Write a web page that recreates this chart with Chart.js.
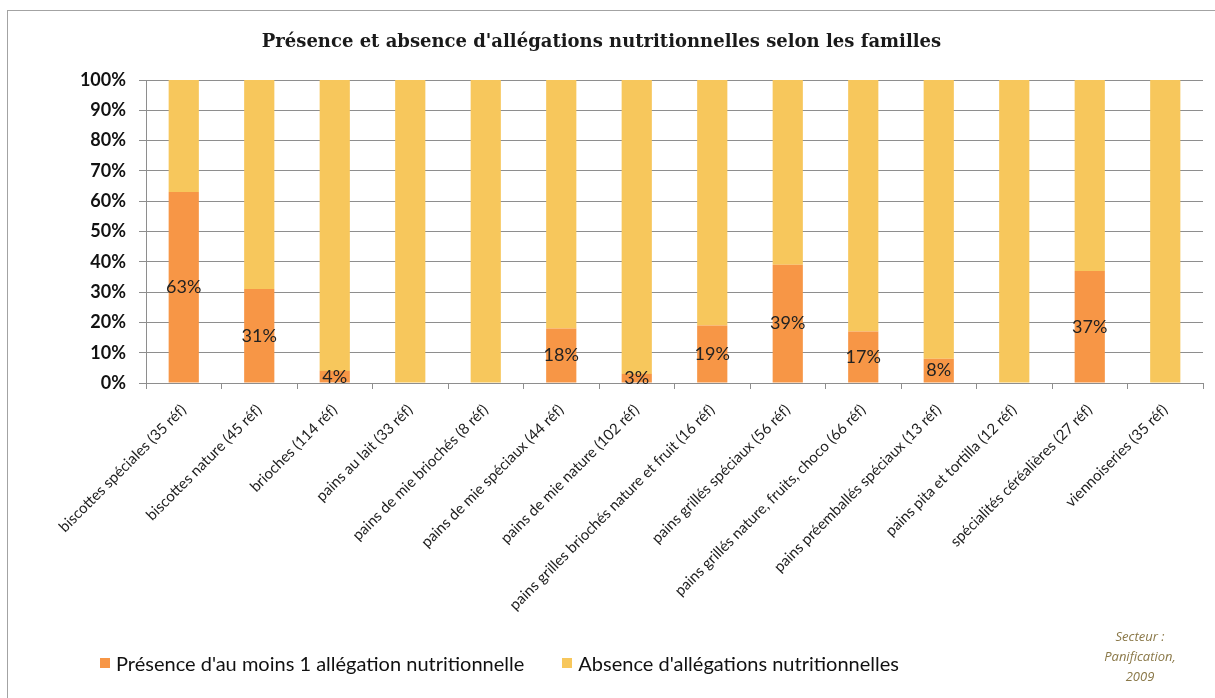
<!DOCTYPE html>
<html lang="fr">
<head>
<meta charset="utf-8">
<title>Allégations nutritionnelles - panification</title>
<script src="https://cdn.jsdelivr.net/npm/chart.js@4"></script>
<style>
  body { margin: 0; background: #fff; }
  .wrap { position: relative; width: 1215px; height: 698px; overflow: hidden; }
  .frame { position: absolute; left: 7px; top: 10px; width: 1230px; height: 720px; border: 1.5px solid #a3a3a3; box-sizing: border-box; }
  canvas { position: absolute; left: 0; top: 0; }
  .legend { position: absolute; top: 650px; left: 100px; font: 20px Lato, sans-serif; color: #111; display: flex; line-height: 26px; }
  .legend span.item { display: flex; align-items: center; margin-right: 38px; }
  .legend i { display: inline-block; width: 10px; height: 10px; margin-right: 6px; }
  .note { position: absolute; left: 1085px; top: 626px; width: 110px; text-align: center; font: italic 13px "Open Sans", sans-serif; line-height: 20px; color: #8a7848; }
</style>
</head>
<body>
<div class="wrap">
  <div class="frame"></div>
  <canvas id="myChart" width="1215" height="698"></canvas>
  <div class="legend"></div>
  <div class="note">Secteur :<br>Panification,<br>2009</div>
</div>
<script>
const titleText = "Présence et absence d'allégations nutritionnelles selon les familles";

const familles = [
  'biscottes spéciales (35 réf)',
  'biscottes nature (45 réf)',
  'brioches (114 réf)',
  'pains au lait (33 réf)',
  'pains de mie briochés (8 réf)',
  'pains de mie spéciaux (44 réf)',
  'pains de mie nature (102 réf)',
  'pains grilles briochés nature et fruit (16 réf)',
  'pains grillés spéciaux (56 réf)',
  'pains grillés nature, fruits, choco (66 réf)',
  'pains préemballés spéciaux (13 réf)',
  'pains pita et tortilla (12 réf)',
  'spécialités céréalières (27 réf)',
  'viennoiseries (35 réf)'
];

// % des références par famille
const presence = [63, 31, 4, 0, 0, 18, 3, 19, 39, 17, 8, 0, 37, 0];
const absence  = [37, 69, 96, 100, 100, 82, 97, 81, 61, 83, 92, 100, 63, 100];

const seriesNames = [
  "Présence d'au moins 1 allégation nutritionnelle",
  "Absence d'allégations nutritionnelles"
];
const seriesColors = ['#F79646', '#F7C75C'];

const yTicks = [0, 10, 20, 30, 40, 50, 60, 70, 80, 90, 100];

const gridGrey = '#8e8e8e';

// pourcentages écrits au milieu des barres orange
const barLabels = {
  id: 'barLabels',
  afterDatasetsDraw(chart) {
    const ctx = chart.ctx;
    const meta = chart.getDatasetMeta(0);
    ctx.save();
    ctx.font = '18px Lato';
    ctx.fillStyle = '#222';
    ctx.textAlign = 'center';
    ctx.textBaseline = 'middle';
    meta.data.forEach((bar, i) => {
      if (!presence[i]) return;
      ctx.fillText(presence[i] + '%', bar.x, (bar.y + bar.base) / 2);
    });
    ctx.restore();
  }
};

const ctx = document.getElementById('myChart');
const chart = new Chart(ctx, {
  type: 'bar',
  data: {
    labels: familles,
    datasets: [
      { label: seriesNames[0], data: presence, backgroundColor: seriesColors[0] },
      { label: seriesNames[1], data: absence, backgroundColor: seriesColors[1] }
    ]
  },
  options: {
    responsive: false,
    devicePixelRatio: 1,
    animation: false,
    barPercentage: 0.4,
    categoryPercentage: 1,
    layout: { padding: { left: 0, right: 12, top: 0, bottom: 0 } },
    plugins: {
      legend: { display: false },
      tooltip: { enabled: false },
      title: {
        display: true,
        text: titleText,
        color: '#1a1a1a',
        font: { family: 'DejaVu Serif', size: 18, weight: 'bold', lineHeight: '24px' },
        padding: { top: 30, bottom: 26 }
      }
    },
    scales: {
      x: {
        stacked: true,
        grid: { drawOnChartArea: false, drawTicks: true, tickLength: 6, color: gridGrey },
        border: { color: gridGrey },
        ticks: {
          autoSkip: false, maxRotation: 45, minRotation: 45, padding: 12,
          color: '#222', font: { family: 'Lato', size: 15 }
        },
        afterFit: (scale) => { scale.height = 315; }
      },
      y: {
        stacked: true,
        min: 0,
        max: 100,
        afterBuildTicks: (scale) => { scale.ticks = yTicks.map(v => ({ value: v })); },
        grid: { color: gridGrey, tickLength: 7 },
        border: { color: gridGrey },
        ticks: {
          padding: 13,
          color: '#111',
          font: { family: 'Lato', size: 18, weight: 'bold' },
          callback: (v) => v + '%'
        },
        afterFit: (scale) => { scale.width = 146; }
      }
    }
  },
  plugins: [barLabels]
});

// légende sous le graphique
const legendBox = document.querySelector('.legend');
chart.data.datasets.forEach((ds) => {
  const item = document.createElement('span');
  item.className = 'item';
  item.innerHTML = `<i style="background:${ds.backgroundColor}"></i>${ds.label}`;
  legendBox.appendChild(item);
});
</script>
</body>
</html>
